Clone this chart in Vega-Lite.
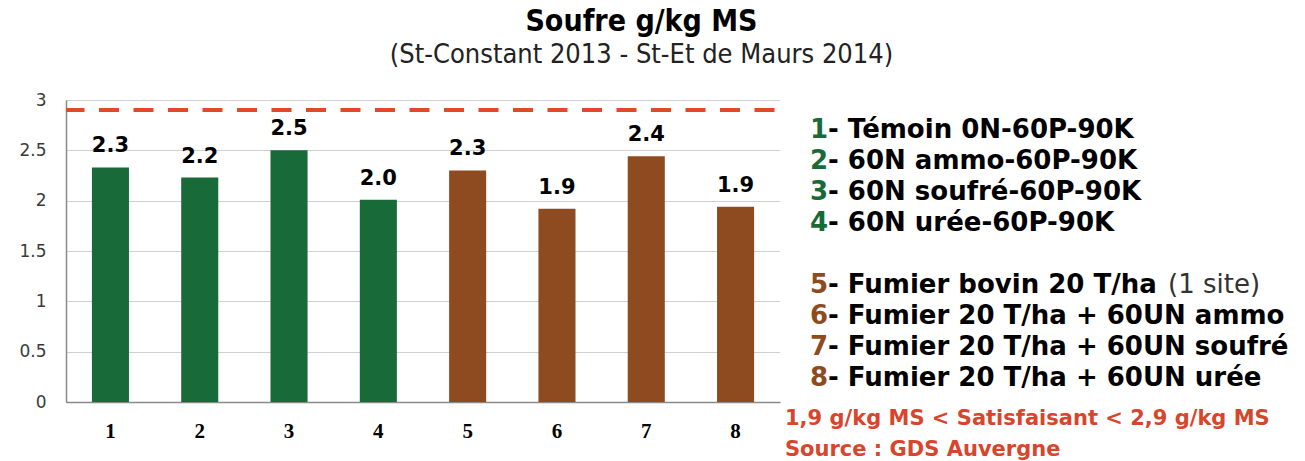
{
  "$schema": "https://vega.github.io/schema/vega-lite/v6.json",
  "background": "white",
  "padding": {"left": 18, "top": 6, "right": 5, "bottom": 5},
  "title": {
    "text": "Soufre g/kg MS",
    "subtitle": "(St-Constant 2013 - St-Et de Maurs 2014)",
    "anchor": "middle",
    "dx": -13,
    "font": "DejaVu Sans Condensed, DejaVu Sans",
    "fontSize": 30,
    "fontWeight": "bold",
    "color": "#000000",
    "subtitleFont": "DejaVu Sans Condensed, DejaVu Sans",
    "subtitleFontSize": 27,
    "subtitleColor": "#222222",
    "subtitlePadding": 5,
    "offset": 23
  },
  "bounds": "flush",
  "spacing": 30,
  "config": {"view": {"stroke": "transparent"}},
  "hconcat": [
    {
      "width": 714,
      "height": 302,
      "layer": [
        {
          "data": {"values": [
            {"n": "1", "v": 2.33, "g": "Minéral"},
            {"n": "2", "v": 2.23, "g": "Minéral"},
            {"n": "3", "v": 2.50, "g": "Minéral"},
            {"n": "4", "v": 2.01, "g": "Minéral"},
            {"n": "5", "v": 2.30, "g": "Fumier"},
            {"n": "6", "v": 1.92, "g": "Fumier"},
            {"n": "7", "v": 2.44, "g": "Fumier"},
            {"n": "8", "v": 1.94, "g": "Fumier"}
          ]},
          "encoding": {
            "x": {
              "field": "n", "type": "nominal", "sort": null,
              "scale": {"paddingInner": 0.585, "paddingOuter": 0.29},
              "axis": {
                "title": null, "labelAngle": 0, "ticks": false,
                "domainColor": "#8a8a8a", "domainWidth": 1.5,
                "labelFont": "Liberation Serif", "labelFontWeight": "bold",
                "labelFontSize": 21, "labelColor": "#000000", "labelPadding": 18
              }
            },
            "y": {
              "field": "v", "type": "quantitative",
              "scale": {"domain": [0, 3], "nice": false},
              "axis": {
                "title": null, "values": [0, 0.5, 1, 1.5, 2, 2.5, 3], "format": "~g",
                "ticks": false, "domainColor": "#8a8a8a", "domainWidth": 1.5,
                "labelFont": "DejaVu Sans", "labelFontSize": 17, "labelColor": "#3a3a3a",
                "labelPadding": 20, "grid": true, "gridColor": "#a0a0a0", "gridDash": [1, 1]
              }
            }
          },
          "layer": [
            {
              "mark": {"type": "bar"},
              "encoding": {
                "color": {
                  "field": "g", "type": "nominal",
                  "scale": {"domain": ["Minéral", "Fumier"], "range": ["#186A38", "#8E4B20"]},
                  "legend": null
                }
              }
            },
            {
              "mark": {"type": "text", "baseline": "alphabetic", "dy": -15, "font": "DejaVu Sans", "fontSize": 21, "fontWeight": "bold", "color": "#000000"},
              "encoding": {"text": {"field": "v", "type": "quantitative", "format": ".1f"}}
            }
          ]
        },
        {
          "data": {"values": [{"seuil": 2.9}]},
          "mark": {"type": "rule", "color": "#E2492A", "strokeWidth": 4, "strokeDash": [20, 14.5], "strokeDashOffset": 29},
          "encoding": {"y": {"field": "seuil", "type": "quantitative"}}
        }
      ]
    },
    {
      "width": 480,
      "height": 355,
      "data": {"values": [
        {"key": "1", "text": "- Témoin 0N-60P-90K", "g": "Minéral"},
        {"key": "2", "text": "- 60N ammo-60P-90K", "g": "Minéral"},
        {"key": "3", "text": "- 60N soufré-60P-90K", "g": "Minéral"},
        {"key": "4", "text": "- 60N urée-60P-90K", "g": "Minéral"},
        {"key": "5", "text": "- Fumier bovin 20 T/ha", "g": "Fumier", "extra": "(1 site)"},
        {"key": "6", "text": "- Fumier 20 T/ha + 60UN ammo", "g": "Fumier"},
        {"key": "7", "text": "- Fumier 20 T/ha + 60UN soufré", "g": "Fumier"},
        {"key": "8", "text": "- Fumier 20 T/ha + 60UN urée", "g": "Fumier"},
        {"key": "f1", "text": "1,9 g/kg MS < Satisfaisant < 2,9 g/kg MS", "g": "note"},
        {"key": "f2", "text": "Source : GDS Auvergne", "g": "note"}
      ]},
      "encoding": {
        "x": {"datum": 0, "type": "quantitative", "scale": {"domain": [0, 1]}, "axis": null},
        "y": {
          "field": "key", "type": "nominal",
          "scale": {"type": "point", "domain": ["1", "2", "3", "4", "gap", "5", "6", "7", "8", "f1", "f2"], "padding": 0.726, "align": 0.667},
          "axis": null
        }
      },
      "layer": [
        {
          "transform": [{"filter": "datum.g !== 'note'"}],
          "mark": {"type": "text", "align": "left", "baseline": "middle", "font": "DejaVu Sans", "fontSize": 26, "fontWeight": "bold"},
          "encoding": {
            "text": {"field": "key"},
            "color": {
              "field": "g", "type": "nominal",
              "scale": {"domain": ["Minéral", "Fumier"], "range": ["#186A38", "#8E4B20"]},
              "legend": null
            }
          }
        },
        {
          "transform": [{"filter": "datum.g !== 'note'"}],
          "mark": {"type": "text", "align": "left", "baseline": "middle", "dx": 18, "font": "DejaVu Sans", "fontSize": 26, "fontWeight": "bold", "color": "#000000"},
          "encoding": {"text": {"field": "text"}}
        },
        {
          "transform": [{"filter": "datum.extra"}],
          "mark": {"type": "text", "align": "left", "baseline": "middle", "dx": 358, "font": "DejaVu Sans", "fontSize": 26, "fontWeight": "normal", "color": "#333333"},
          "encoding": {"text": {"field": "extra"}}
        },
        {
          "transform": [{"filter": "datum.g === 'note'"}],
          "mark": {"type": "text", "align": "left", "baseline": "middle", "dx": -25, "dy": 10, "font": "DejaVu Sans", "fontSize": 21, "fontWeight": "bold", "color": "#D9452B"},
          "encoding": {"text": {"field": "text"}}
        }
      ]
    }
  ]
}
